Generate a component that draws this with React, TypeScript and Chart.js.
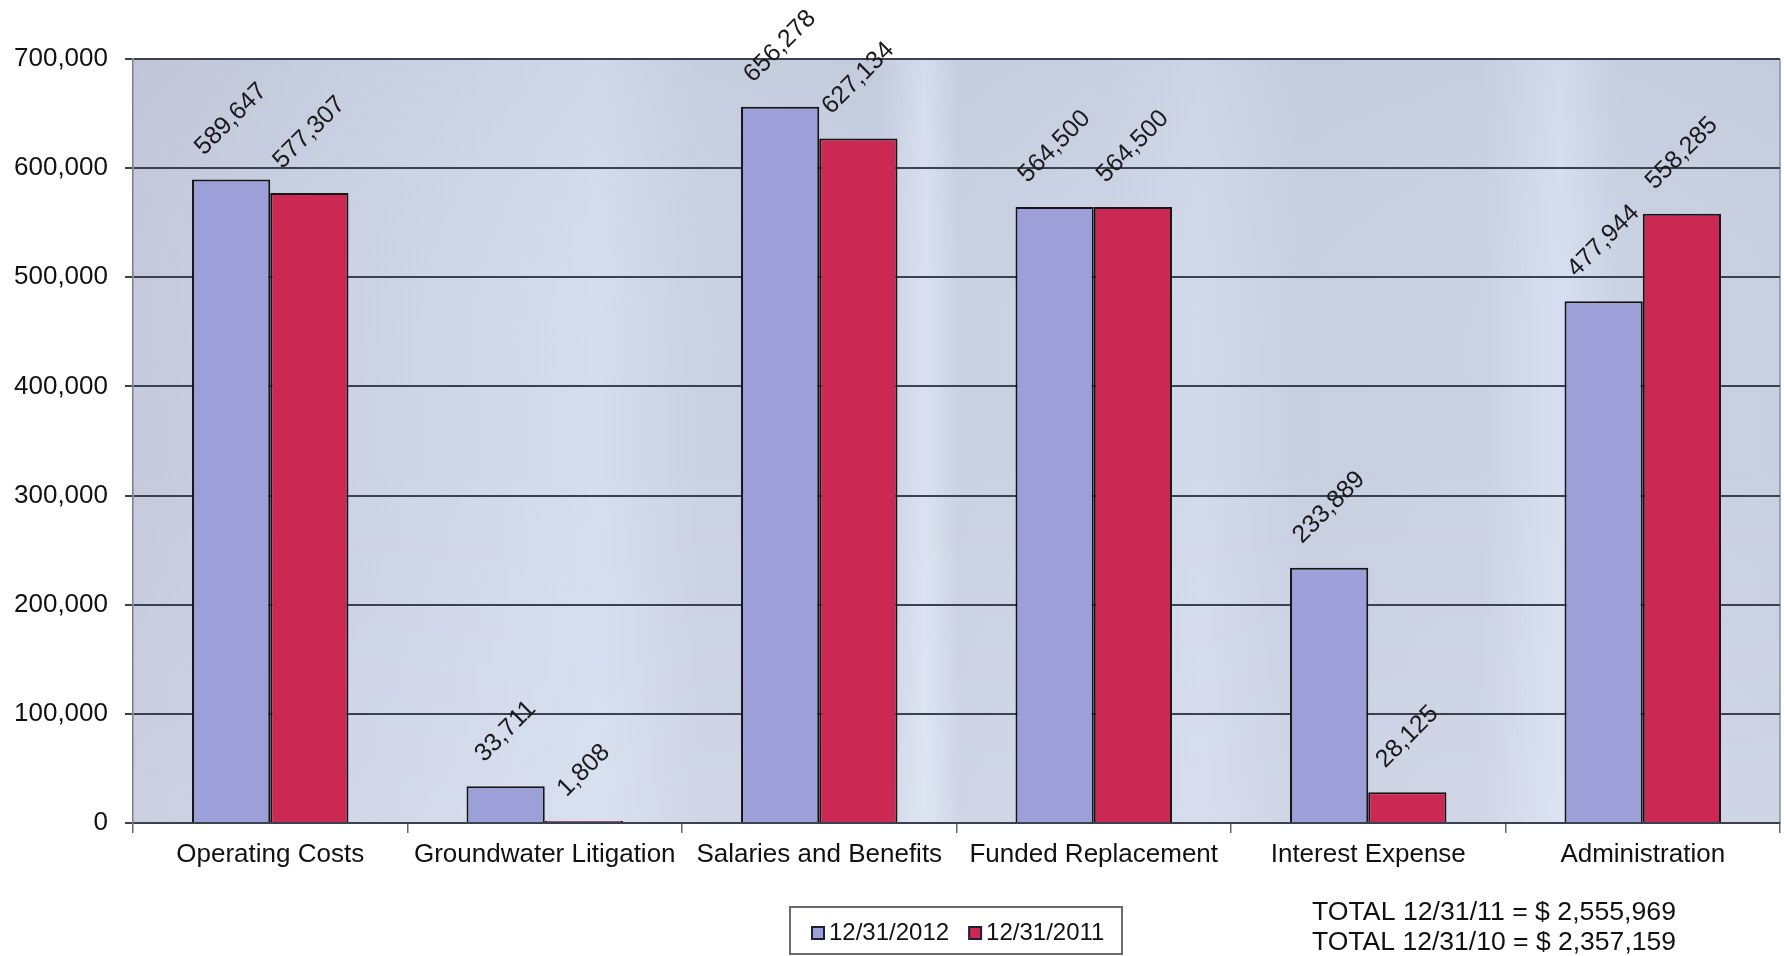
import React, { useEffect, useRef } from "react";
import { Chart, registerables } from "chart.js";

Chart.register(...registerables);

const categories = [
  "Operating Costs",
  "Groundwater Litigation",
  "Salaries and Benefits",
  "Funded Replacement",
  "Interest Expense",
  "Administration",
];
const series2012 = [589647, 33711, 656278, 564500, 233889, 477944];
const series2011 = [577307, 1808, 627134, 564500, 28125, 558285];
const seriesNames = ["12/31/2012", "12/31/2011"];
const totalLines = ["TOTAL 12/31/11 = $ 2,555,969", "TOTAL 12/31/10 = $ 2,357,159"];
const yMax = 700000;
const yStep = 100000;

const FONT = "'Liberation Sans', Arial, sans-serif";
const BLUE = "#9c9fd8";
const RED = "#cb2853";

const fmt = (v: number) => Number(v).toLocaleString("en-US");

const bgPlugin = {
  id: "bgPlugin",
  beforeDraw(chart: any) {
    const { ctx, chartArea: a } = chart;
    ctx.save();
    const g = ctx.createLinearGradient(a.left, 0, a.right, 0);
    const W = a.right - a.left;
    const stops: [number, string][] = [
      [133, "#c4cadc"],
      [300, "#c9d0e2"],
      [420, "#ced5e7"],
      [600, "#d4dcee"],
      [700, "#cad1e3"],
      [880, "#c8cfe1"],
      [925, "#dae2f1"],
      [960, "#c9d0e2"],
      [1100, "#ccd3e5"],
      [1200, "#d2d9ea"],
      [1300, "#c8cfe1"],
      [1480, "#cad1e3"],
      [1560, "#d7dff0"],
      [1620, "#cad1e3"],
      [1778, "#c8cfe1"],
    ];
    stops.forEach(([x, c]) => g.addColorStop(Math.min(1, Math.max(0, (x - a.left) / W)), c));
    ctx.fillStyle = g;
    ctx.fillRect(a.left, a.top, W, a.bottom - a.top);
    const v = ctx.createLinearGradient(0, a.top, 0, a.bottom);
    v.addColorStop(0, "rgba(150,155,175,0.08)");
    v.addColorStop(0.5, "rgba(255,255,255,0)");
    v.addColorStop(1, "rgba(255,255,255,0.12)");
    ctx.fillStyle = v;
    ctx.fillRect(a.left, a.top, W, a.bottom - a.top);
    ctx.strokeStyle = "#8a8f9c";
    ctx.lineWidth = 1.5;
    ctx.beginPath();
    ctx.moveTo(a.right, a.top);
    ctx.lineTo(a.right, a.bottom);
    ctx.stroke();
    ctx.restore();
  },
};

const labelPlugin = {
  id: "labelPlugin",
  afterDatasetsDraw(chart: any) {
    const { ctx } = chart;
    ctx.save();
    ctx.font = `25px ${FONT}`;
    ctx.fillStyle = "#1a1a1a";
    ctx.textAlign = "center";
    ctx.textBaseline = "middle";
    chart.data.datasets.forEach((ds: any, di: number) => {
      const meta = chart.getDatasetMeta(di);
      meta.data.forEach((bar: any, i: number) => {
        const txt = fmt(ds.data[i]);
        const w = ctx.measureText(txt).width;
        const ext = (w + 18) / Math.SQRT2;
        const cx = bar.x;
        const cy = bar.y - 22 - ext / 2;
        ctx.save();
        ctx.translate(cx, cy);
        ctx.rotate(-Math.PI / 4);
        ctx.fillText(txt, 0, 0);
        ctx.restore();
      });
    });
    ctx.restore();
  },
  afterDraw(chart: any) {
    const { ctx } = chart;
    ctx.save();
    // legend box
    const bx = 790, by = 907, bw = 332, bh = 47;
    ctx.fillStyle = "#ffffff";
    ctx.fillRect(bx, by, bw, bh);
    ctx.strokeStyle = "#6a6a6a";
    ctx.lineWidth = 2;
    ctx.strokeRect(bx, by, bw, bh);
    ctx.font = `24px ${FONT}`;
    ctx.textBaseline = "middle";
    ctx.textAlign = "left";
    const cols = [BLUE, RED];
    let x = bx + 22;
    const cy = by + 26;
    seriesNames.forEach((n, i) => {
      ctx.fillStyle = cols[i];
      ctx.fillRect(x, cy - 6, 12, 12);
      ctx.strokeStyle = "#1a1f3a";
      ctx.lineWidth = 2;
      ctx.strokeRect(x, cy - 6, 12, 12);
      ctx.fillStyle = "#111";
      ctx.fillText(n, x + 17, cy);
      const w = ctx.measureText(n).width;
      x += 17 + w + 20;
    });
    // totals
    ctx.font = `26px ${FONT}`;
    ctx.fillStyle = "#111";
    ctx.textAlign = "left";
    totalLines.forEach((t, i) => {
      const w = ctx.measureText(t).width;
      ctx.save();
      ctx.translate(1312, 913 + i * 30);
      ctx.scale(364 / w, 1);
      ctx.fillText(t, 0, 0);
      ctx.restore();
    });
    ctx.restore();
  },
};

export default function App() {
  const ref = useRef<HTMLCanvasElement | null>(null);
  useEffect(() => {
    document.body.style.margin = "0";
    const chart = new Chart(ref.current as HTMLCanvasElement, {
      type: "bar",
      data: {
        labels: categories,
        datasets: [
          {
            label: seriesNames[0],
            data: series2012,
            backgroundColor: BLUE,
            borderColor: "#151515",
            borderWidth: 2,
            categoryPercentage: 0.57,
            barPercentage: 1,
          },
          {
            label: seriesNames[1],
            data: series2011,
            backgroundColor: RED,
            borderColor: "#151515",
            borderWidth: 2,
            categoryPercentage: 0.57,
            barPercentage: 1,
          },
        ],
      },
      options: {
        animation: false,
        responsive: false,
        maintainAspectRatio: false,
        layout: { padding: { top: 59, right: 4, left: 0, bottom: 0 } },
        plugins: {
          legend: { display: false },
          tooltip: { enabled: false },
        },
        scales: {
          x: {
            offset: true,
            grid: {
              offset: true,
              drawOnChartArea: false,
              drawTicks: true,
              tickLength: 10,
              color: "#666",
              lineWidth: 1.5,
            },
            border: { display: true, color: "#3a4252", width: 2 },
            ticks: {
              font: { family: FONT, size: 26 },
              color: "#111",
              padding: 6,
              maxRotation: 0,
              autoSkip: false,
            },
            afterFit(scale: any) {
              scale.height = 133;
            },
          },
          y: {
            min: 0,
            max: yMax,
            grid: {
              color: "#3a4252",
              lineWidth: 2,
              tickLength: 8,
              drawTicks: true,
            },
            border: { display: true, color: "#7a7f8c", width: 1.5 },
            ticks: {
              stepSize: yStep,
              font: { family: FONT, size: 26 },
              color: "#111",
              padding: 17,
              callback: (v: any) => fmt(v),
            },
            afterFit(scale: any) {
              scale.width = 133;
            },
          },
        },
      },
      plugins: [bgPlugin, labelPlugin],
    });
    return () => chart.destroy();
  }, []);
  return (
    <div style={{ position: "fixed", left: 0, top: 0, width: 1784, height: 956, background: "#fff" }}>
      <canvas ref={ref} width={1784} height={956} style={{ width: 1784, height: 956 }} />
    </div>
  );
}
